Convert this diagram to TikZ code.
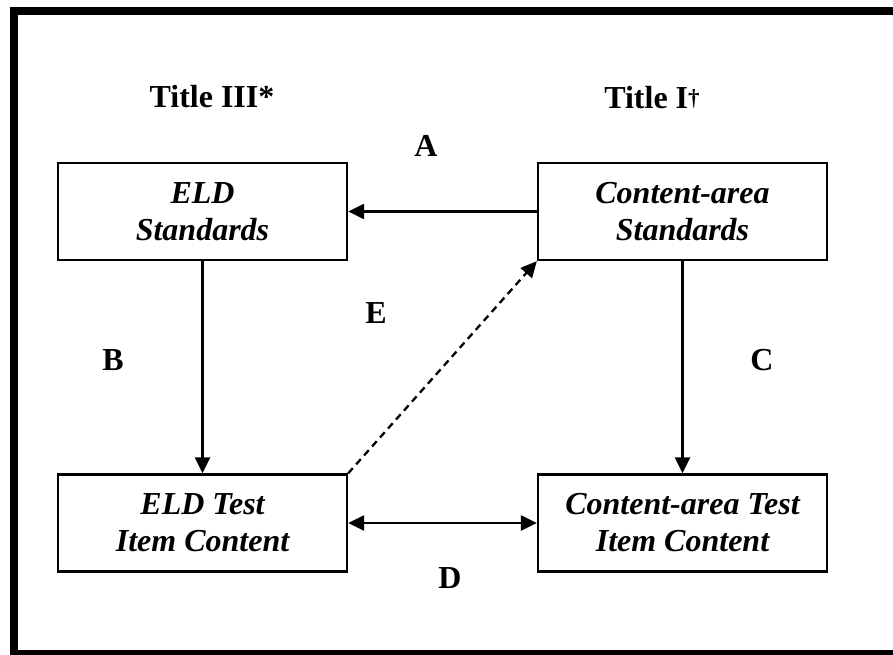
\documentclass[tikz,border=0pt]{standalone}
\usepackage{fontspec}
\setmainfont{Liberation Serif}
\usetikzlibrary{arrows.meta}
\begin{document}
\begin{tikzpicture}[x=1pt,y=-1pt,
  box/.style={draw, line width=2.3pt, minimum width=289pt, minimum height=97pt, font=\fontsize{32}{37}\selectfont\bfseries\itshape, align=center, inner sep=0pt},
  lbl/.style={font=\fontsize{32}{36}\selectfont\bfseries, inner sep=0pt},
  conn/.style={line width=2.3pt, -{Triangle[length=16pt,width=15pt]}},
  dconn/.style={line width=2.3pt, {Triangle[length=16pt,width=15pt]}-{Triangle[length=16pt,width=15pt]}}]
\useasboundingbox (0,0) rectangle (893,655);
\fill[white] (0,0) rectangle (893,655);
\begin{scope}
\clip (0,0) rectangle (893,655);
\draw[line width=8pt] (14,11) rectangle (905,654);
\end{scope}
\node[box] (eld) at (202.5,211.5) {ELD\\Standards};
\node[box] (cstd) at (682.5,211.5) {Content-area\\Standards};
\node[box] (eldt) at (202.5,523) {ELD Test\\Item Content};
\node[box] (ct) at (682.5,523) {Content-area Test\\Item Content};
\node[lbl] (t3) at (212,97) {Title III*};
\node[lbl] (t1) at (652,98) {Title I\raisebox{0.12em}{\fontsize{23}{23}\selectfont †}};
\node[lbl] (la) at (426,146) {A};
\node[lbl] (le) at (376,313) {E};
\node[lbl] (lb) at (113,360) {B};
\node[lbl] (lc) at (762,360) {C};
\node[lbl] (ld) at (450,578) {D};
\draw[conn] (cstd.west) -- (eld.east);
\draw[conn] (eld.south) -- (eldt.north);
\draw[conn] (cstd.south) -- (ct.north);
\draw[dconn] (eldt.east) -- (ct.west);
\draw[conn, dashed, dash pattern=on 7pt off 5pt] (eldt.north east) -- (cstd.south west);
\end{tikzpicture}
\end{document}
